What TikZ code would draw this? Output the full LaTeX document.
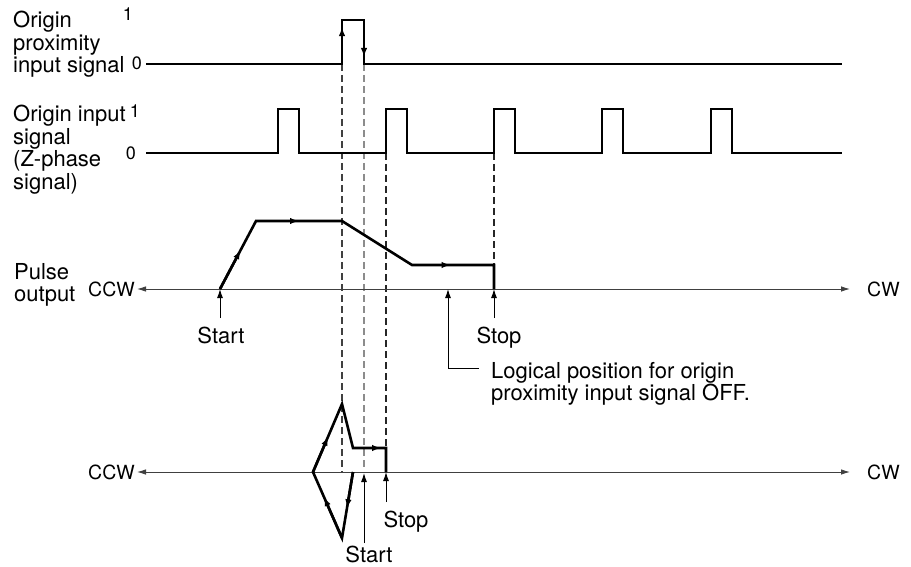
\documentclass[tikz,border=0pt]{standalone}
\usepackage{fontspec}
\setmainfont{TeX Gyre Heros}
\usetikzlibrary{arrows.meta,calc}
\begin{document}
\begin{tikzpicture}[x=1pt,y=-1pt,
  sig/.style={line width=2.6pt, line cap=butt},
  midtip/.style={sig, -{Latex[length=9pt,width=6.5pt]}},
  axisline/.style={line width=0.9pt, black!75, {Latex[length=9pt,width=5.5pt]}-{Latex[length=9pt,width=5.5pt]}},
  guide/.style={line width=1.2pt, dash pattern=on 7pt off 4pt},
  ptr/.style={line width=1pt, -{Latex[length=9pt,width=6pt]}},
  lbl/.style={font=\fontsize{22}{22.5}\selectfont, inner sep=0pt, align=left},
  dig/.style={font=\fontsize{18}{18}\selectfont, inner sep=0pt},
  dirlbl/.style={font=\fontsize{19.5}{19.5}\selectfont, inner sep=0pt},
]
\useasboundingbox (0,0) rectangle (911,567);

% ---------- labels ----------
\node[lbl, anchor=north west] (lprox) at (13,11) {Origin\\proximity\\input signal};
\node[dig] (prox1) at (128,14) {1};
\node[dig] (prox0) at (137,63) {0};
\node[lbl, anchor=north west] (lzph) at (13,105) {Origin input\\signal\\(Z-phase\\signal)};
\node[dig] (zph1) at (135,111) {1};
\node[dig] (zph0) at (131,153) {0};
\node[lbl, anchor=north west] (lpulse) at (14,263) {Pulse\\output};

% ---------- key coordinates ----------
\coordinate (p0s) at (146,64);
\coordinate (p0r) at (342,64);
\coordinate (p1r) at (342,20);
\coordinate (p1f) at (364,20);
\coordinate (p0f) at (364,64);
\coordinate (p0e) at (842,64);

\coordinate (a0) at (220,289);
\coordinate (a1) at (256,221);
\coordinate (a2) at (342,221);
\coordinate (a3) at (412,265);
\coordinate (a4) at (494,265);
\coordinate (a5) at (494,289);

\coordinate (b0) at (353,472);
\coordinate (b1) at (342,538);
\coordinate (b2) at (313,472);
\coordinate (b3) at (342,404);
\coordinate (b4) at (353,448);
\coordinate (b5) at (386,448);
\coordinate (b6) at (386,472);

\coordinate (z3) at (386,153);
\coordinate (z4) at (494,153);
\coordinate (d1e) at (342,472);
\coordinate (d2e) at (364,470);

% ---------- dashed guides ----------
\draw[guide, black!75] (p0r) -- (d1e);
\draw[guide, black!45] (p0f) -- (d2e);
\draw[guide, black!85] (z3) -- (b5);
\draw[guide, black!85] (z4) -- (a4);

% ---------- origin proximity signal ----------
\draw[sig] (p0s) -- (p0r) -- (p1r) -- (p1f) -- (p0f) -- (p0e);
\draw[midtip] (p0r) -- ($(p0r)!0.84!(p1r)$);
\draw[midtip] (p1f) -- ($(p1f)!0.84!(p0f)$);

% ---------- Z-phase signal ----------
\draw[sig] (146,153) foreach \x in {278,386,494,602,711} { -- (\x,153) -- (\x,109) -- (\x+21,109) -- (\x+21,153) } -- (842,153);

% ---------- axes ----------
\node[dirlbl, anchor=east] (ccw1) at (135,289) {CCW};
\node[dirlbl, anchor=west] (cw1) at (867,289) {CW};
\coordinate (axL1) at (137,289);
\coordinate (axR1) at (850,289);
\draw[axisline] (axL1) -- (axR1);

\node[dirlbl, anchor=east] (ccw2) at (135,472) {CCW};
\node[dirlbl, anchor=west] (cw2) at (867,472) {CW};
\coordinate (axL2) at (137,472);
\coordinate (axR2) at (850,472);
\draw[axisline] (axL2) -- (axR2);

% ---------- upper pulse profile ----------
\draw[sig] (a0) -- (a1) -- (a2) -- (a3) -- (a4) -- (a5);
\draw[midtip] (a0) -- ($(a0)!0.57!(a1)$);
\draw[midtip] (a1) -- ($(a1)!0.5!(a2)$);
\draw[midtip] (a3) -- ($(a3)!0.47!(a4)$);

% ---------- lower pulse profile ----------
\draw[sig] (b0) -- (b1) -- (b2) -- (b3) -- (b4) -- (b5) -- (b6);
\draw[midtip] (b0) -- ($(b0)!0.55!(b1)$);
\draw[midtip] (b1) -- ($(b1)!0.62!(b2)$);
\draw[midtip] (b2) -- ($(b2)!0.52!(b3)$);
\draw[midtip] (b4) -- ($(b4)!0.85!(b5)$);

% ---------- pointers and their labels ----------
\node[lbl, anchor=base] (start1) at (221,343) {Start};
\coordinate (s1b) at (220,318);
\draw[ptr] (s1b) -- (a0);

\node[lbl, anchor=base] (stop1) at (499,343) {Stop};
\coordinate (t1b) at (494,318);
\draw[ptr] (t1b) -- (a5);

\node[lbl, anchor=north west] (logic) at (491,362) {Logical position for origin\\proximity input signal OFF.};
\coordinate (lg0) at (479,368);
\coordinate (lg1) at (448,368);
\coordinate (lg2) at (448,289);
\draw[ptr] (lg0) -- (lg1) -- (lg2);

\node[lbl, anchor=base] (start2) at (369,562) {Start};
\coordinate (s2b) at (364,543);
\coordinate (s2t) at (364,473);
\draw[ptr] (s2b) -- (s2t);

\node[lbl, anchor=base] (stop2) at (406,527) {Stop};
\coordinate (t2b) at (386,502);
\draw[ptr] (t2b) -- (b6);
\end{tikzpicture}
\end{document}
